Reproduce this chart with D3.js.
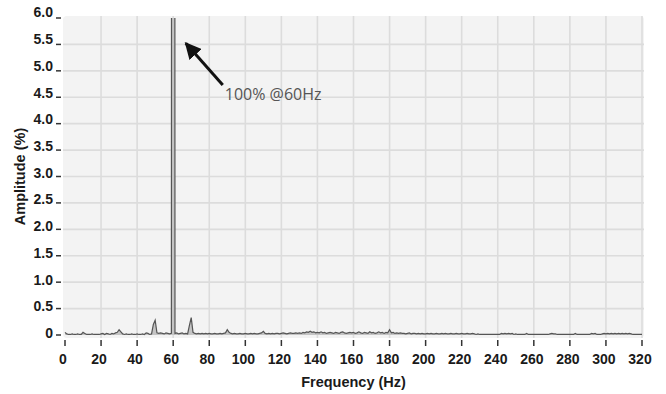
<!DOCTYPE html>
<html>
<head>
<meta charset="utf-8">
<script src="https://cdn.jsdelivr.net/npm/d3@7"></script>
<style>
  body { margin: 0; background: #fff; }
  svg { display: block; }
  .tick-label { font-family: "Liberation Sans", Arial, sans-serif; font-weight: bold; font-size: 14px; fill: #1a1a1a; }
  .axis-title { font-family: "Liberation Sans", Arial, sans-serif; font-weight: bold; font-size: 14.5px; fill: #1a1a1a; }
</style>
</head>
<body>
<div id="chart"></div>
<script>
// frequency bins, 1 Hz apart
const freqs = d3.range(0, 321, 1);

// amplitude in % of the fundamental, one value per bin (60 Hz is the 100% fundamental)
const amps = [
  0.05,0.02,0.01,0.01,0.02,0.01,0.01,0.02,0.01,0.01,
  0.05,0.03,0.01,0.01,0.01,0.02,0.01,0.01,0.01,0.01,
  0.02,0.03,0.01,0.03,0.02,0.01,0.03,0.02,0.04,0.05,
  0.10,0.06,0.02,0.01,0.02,0.01,0.01,0.02,0.01,0.01,
  0.02,0.01,0.01,0.02,0.01,0.04,0.03,0.01,0.02,0.20,
  0.28,0.04,0.03,0.04,0.03,0.02,0.04,0.03,0.02,0.03,
  100, 0.03,0.04,0.02,0.03,0.04,0.02,0.03,0.02,0.18,
  0.33,0.05,0.03,0.02,0.03,0.02,0.03,0.02,0.03,0.02,
  0.03,0.02,0.02,0.03,0.02,0.02,0.03,0.02,0.03,0.04,
  0.10,0.05,0.03,0.02,0.03,0.02,0.02,0.03,0.02,0.02,
  0.03,0.02,0.02,0.03,0.02,0.03,0.02,0.02,0.03,0.04,
  0.07,0.03,0.02,0.03,0.02,0.03,0.02,0.03,0.03,0.02,
  0.03,0.04,0.03,0.02,0.03,0.04,0.03,0.03,0.04,0.03,
  0.04,0.03,0.05,0.04,0.06,0.05,0.07,0.05,0.06,0.04,
  0.05,0.04,0.06,0.04,0.05,0.03,0.04,0.05,0.04,0.03,
  0.05,0.04,0.03,0.05,0.06,0.04,0.03,0.04,0.05,0.04,
  0.05,0.03,0.04,0.06,0.04,0.03,0.05,0.04,0.03,0.06,
  0.04,0.05,0.03,0.04,0.06,0.04,0.05,0.03,0.05,0.04,
  0.10,0.04,0.05,0.03,0.04,0.03,0.04,0.03,0.03,0.02,
  0.03,0.04,0.02,0.03,0.03,0.02,0.03,0.02,0.03,0.02,
  0.02,0.03,0.02,0.03,0.02,0.02,0.03,0.02,0.02,0.03,
  0.02,0.03,0.02,0.02,0.03,0.02,0.02,0.03,0.02,0.02,
  0.03,0.02,0.02,0.03,0.02,0.02,0.03,0.02,0.01,0.02,
  0.01,0.01,0.01,0.01,0.01,0.01,0.01,0.01,0.01,0.01,
  0.01,0.01,0.03,0.02,0.03,0.02,0.03,0.02,0.03,0.01,
  0.02,0.01,0.01,0.01,0.01,0.01,0.03,0.01,0.01,0.01,
  0.01,0.01,0.01,0.01,0.01,0.01,0.01,0.01,0.01,0.02,
  0.03,0.02,0.02,0.01,0.01,0.01,0.01,0.01,0.01,0.01,
  0.01,0.01,0.01,0.03,0.01,0.01,0.01,0.01,0.01,0.01,
  0.01,0.01,0.03,0.02,0.03,0.01,0.01,0.01,0.02,0.03,
  0.02,0.03,0.02,0.03,0.02,0.03,0.02,0.03,0.02,0.03,
  0.02,0.03,0.02,0.03,0.02,0.01,0.01,0.01,0.01,0.01,
  0.01
];

const xTicks = d3.range(0, 321, 20);
const yTicks = [0, 0.5, 1.0, 1.5, 2.0, 2.5, 3.0, 3.5, 4.0, 4.5, 5.0, 5.5, 6.0];

// annotation: arrow from the label toward the fundamental
const noteText = "100% @60Hz";
const arrowTail = [87.5, 4.73];
const arrowTip = [67, 5.52];
const notePos = [88.6, 4.45];

const W = 666, H = 394;
const x = d3.scaleLinear().domain([0, 320]).range([65, 642]);
const y = d3.scaleLinear().domain([0, 6]).range([335, 18]);

const svg = d3.select("#chart").append("svg")
  .attr("width", W)
  .attr("height", H);

// plot background
svg.append("rect")
  .attr("x", x(0) - 2).attr("y", y(6) - 2)
  .attr("width", x(320) - x(0) + 4)
  .attr("height", y(0) - y(6) + 5)
  .attr("rx", 4)
  .attr("fill", "#f3f3f3");

// grid
svg.append("g").selectAll("line")
  .data(xTicks.slice(1))
  .join("line")
  .attr("x1", d => x(d)).attr("x2", d => x(d))
  .attr("y1", y(6) - 2).attr("y2", y(0) + 3)
  .attr("stroke", "#dcdcdc").attr("stroke-width", 1.6);

svg.append("g").selectAll("line")
  .data(yTicks.slice(1, -1))
  .join("line")
  .attr("x1", x(0) - 2).attr("x2", x(320) + 2)
  .attr("y1", d => y(d)).attr("y2", d => y(d))
  .attr("stroke", "#dcdcdc").attr("stroke-width", 1.6);

// clip to plot area so the 100% fundamental runs off the top
svg.append("clipPath").attr("id", "plotclip")
  .append("rect")
  .attr("x", x(0) - 2).attr("y", y(6))
  .attr("width", x(320) - x(0) + 4)
  .attr("height", y(0) - y(6) + 3);

const pts = freqs.map((f, i) => [f, amps[i]]);

const plot = svg.append("g").attr("clip-path", "url(#plotclip)");

plot.append("path")
  .datum(pts)
  .attr("d", d3.area().x(d => x(d[0])).y0(y(0)).y1(d => y(d[1])))
  .attr("fill", "#c4c4c4");

plot.append("path")
  .datum(pts)
  .attr("d", d3.line().x(d => x(d[0])).y(d => y(d[1])))
  .attr("fill", "none")
  .attr("stroke", "#555")
  .attr("stroke-width", 1.2);

// x axis: small vertical ticks under the plot
const xa = svg.append("g");
xa.selectAll("line")
  .data(xTicks)
  .join("line")
  .attr("x1", d => x(d)).attr("x2", d => x(d))
  .attr("y1", 340).attr("y2", 346)
  .attr("stroke", "#333").attr("stroke-width", 1.5);
xa.selectAll("text")
  .data(xTicks)
  .join("text")
  .attr("class", "tick-label")
  .attr("x", d => x(d) - 2)
  .attr("y", 364)
  .attr("text-anchor", "middle")
  .text(d => d);

// y axis: short dashes right of the labels
const ya = svg.append("g");
ya.selectAll("line")
  .data(yTicks)
  .join("line")
  .attr("x1", 56).attr("x2", 61)
  .attr("y1", d => y(d)).attr("y2", d => y(d))
  .attr("stroke", "#333").attr("stroke-width", 1.5);
ya.selectAll("text")
  .data(yTicks)
  .join("text")
  .attr("class", "tick-label")
  .attr("x", 53)
  .attr("y", d => y(d) + 3 - d * 0.6)
  .attr("text-anchor", "end")
  .text(d => d === 0 ? "0" : d3.format(".1f")(d));

svg.append("text")
  .attr("class", "axis-title")
  .attr("x", (x(0) + x(320)) / 2)
  .attr("y", 387)
  .attr("text-anchor", "middle")
  .text("Frequency (Hz)");

svg.append("text")
  .attr("class", "axis-title")
  .attr("transform", `translate(25,${(y(0) + y(6)) / 2}) rotate(-90)`)
  .attr("text-anchor", "middle")
  .text("Amplitude (%)");

// annotation arrow
svg.append("defs").append("marker")
  .attr("id", "head")
  .attr("viewBox", "0 0 10 10")
  .attr("refX", 9).attr("refY", 5)
  .attr("markerWidth", 5.5).attr("markerHeight", 5.5)
  .attr("orient", "auto")
  .append("path")
  .attr("d", "M0,0 L10,5 L0,10 z")
  .attr("fill", "#111");

svg.append("line")
  .attr("x1", x(arrowTail[0])).attr("y1", y(arrowTail[1]))
  .attr("x2", x(arrowTip[0])).attr("y2", y(arrowTip[1]))
  .attr("stroke", "#111").attr("stroke-width", 3)
  .attr("marker-end", "url(#head)");

svg.append("text")
  .attr("x", x(notePos[0])).attr("y", y(notePos[1]))
  .attr("font-family", "'Open Sans', sans-serif")
  .attr("font-size", 16)
  .attr("fill", "#555")
  .text(noteText);
</script>
</body>
</html>
